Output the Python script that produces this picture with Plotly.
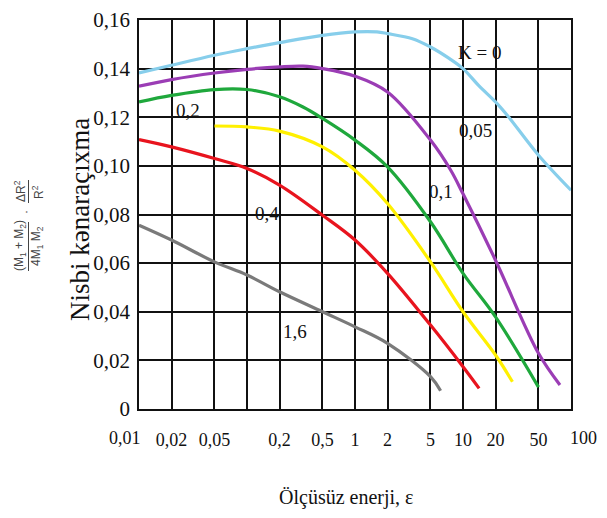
import math
import plotly.graph_objects as go

# ---------------- data ----------------
eps_k0 = [0.01, 0.02, 0.05, 0.1, 0.2, 0.5, 1, 1.6, 2, 3.4, 5, 7.5, 10, 14, 20, 26, 50, 100]
val_k0 = [0.1382, 0.1414, 0.1455, 0.1482, 0.1507, 0.1537, 0.1551, 0.1551, 0.1544, 0.1523,
          0.1489, 0.1441, 0.1400, 0.1330, 0.1263, 0.1205, 0.1044, 0.0900]

eps_k005 = [0.01, 0.02, 0.05, 0.1, 0.2, 0.33, 0.5, 1, 2, 5, 7.7, 10, 20, 50, 79]
val_k005 = [0.1328, 0.1355, 0.1382, 0.1397, 0.1407, 0.1410, 0.1400, 0.1369, 0.1304,
            0.1106, 0.0982, 0.0885, 0.0612, 0.0229, 0.0099]

eps_k01 = [0.01, 0.02, 0.05, 0.1, 0.2, 0.33, 0.5, 1, 2, 5, 10, 20, 50]
val_k01 = [0.1263, 0.1290, 0.1314, 0.1314, 0.1284, 0.1242, 0.1195, 0.1106, 0.0996,
           0.0770, 0.0558, 0.0379, 0.0090]

eps_k02 = [0.05, 0.1, 0.2, 0.5, 1, 2, 5, 10, 20, 28.7]
val_k02 = [0.1164, 0.1160, 0.1143, 0.1078, 0.0982, 0.0845, 0.0605, 0.0400, 0.0222, 0.0112]

eps_k04 = [0.01, 0.02, 0.05, 0.1, 0.2, 0.5, 1, 2, 5, 10, 14.1]
val_k04 = [0.1108, 0.1078, 0.1030, 0.0989, 0.0921, 0.0797, 0.0695, 0.0558, 0.0345,
           0.0174, 0.0085]

eps_k16 = [0.01, 0.02, 0.05, 0.1, 0.2, 0.5, 1, 2, 5, 6.2]
val_k16 = [0.0756, 0.0695, 0.0605, 0.0551, 0.0482, 0.0400, 0.0338, 0.0270, 0.0133, 0.0075]

series_names = ["K = 0", "0,05", "0,1", "0,2", "0,4", "1,6"]
series_eps = [eps_k0, eps_k005, eps_k01, eps_k02, eps_k04, eps_k16]
series_val = [val_k0, val_k005, val_k01, val_k02, val_k04, val_k16]
series_colors = ["#87CEEB", "#9B3DB5", "#1FA83C", "#FFF000", "#E8141E", "#7A7A7A"]

# curve label anchors (epsilon, value)
label_text = ["K = 0", "0,05", "0,2", "0,1", "0,4", "1,6"]
label_eps = [14.3, 13.0, 0.0284, 6.2, 0.154, 0.278]
label_val = [0.1468, 0.1147, 0.1229, 0.0893, 0.0804, 0.0318]

x_tickvals = [0.01, 0.02, 0.05, 0.1, 0.2, 0.5, 1, 2, 5, 10, 20, 50, 100]
x_ticktext = ["", "0,02", "0,05", "", "0,2", "0,5", "1", "2", "5", "10", "20", "50", ""]
x_edge_labels = ["0,01", "100"]
y_tickvals = [0, 0.02, 0.04, 0.06, 0.08, 0.10, 0.12, 0.14, 0.16]
y_ticktext = ["0", "0,02", "0,04", "0,06", "0,08", "0,10", "0,12", "0,14", "0,16"]

# ---------------- figure ----------------
W, H = 607, 518
ML, MR, MT, MB = 139, 36, 20, 109
PW, PH = W - ML - MR, H - MT - MB

def px(xp):
    return (xp - ML) / PW

def py(yp):
    return (H - MB - yp) / PH

SERIF = "Liberation Serif, Times New Roman, serif"
SANS = "Liberation Sans, Arial, sans-serif"

fig = go.Figure()
for name, ex, vy, col in zip(series_names, series_eps, series_val, series_colors):
    fig.add_trace(go.Scatter(x=ex, y=vy, mode="lines", name=name,
                             line=dict(color=col, width=3.2, shape="spline", smoothing=1.0),
                             showlegend=False, hoverinfo="skip"))

for t, ex, vy in zip(label_text, label_eps, label_val):
    fig.add_annotation(x=math.log10(ex), y=vy, xref="x", yref="y", text=t, showarrow=False,
                       xanchor="center", yanchor="middle",
                       font=dict(family=SERIF, size=19, color="#111"))

fig.update_xaxes(type="log", range=[-2, 2], tickvals=x_tickvals, ticktext=x_ticktext,
                 showgrid=True, gridcolor="#111", gridwidth=1.5,
                 showline=True, linecolor="#111", linewidth=1.5, mirror=True,
                 ticks="", ticklabelstandoff=14, tickangle=0, automargin=False,
                 tickfont=dict(family=SERIF, size=18, color="#111"),
                 zeroline=False)
fig.update_yaxes(range=[0, 0.16], tickvals=y_tickvals, ticktext=y_ticktext,
                 showgrid=True, gridcolor="#111", gridwidth=1.5,
                 showline=True, linecolor="#111", linewidth=1.5, mirror=True,
                 ticks="", ticklabelstandoff=3, automargin=False,
                 tickfont=dict(family=SERIF, size=21, color="#111"),
                 zeroline=False)

def note(xp, yp, text, size, family, color="#111", angle=0):
    fig.add_annotation(x=px(xp), y=py(yp), xref="paper", yref="paper", text=text,
                       showarrow=False, textangle=angle, xanchor="center", yanchor="middle",
                       font=dict(family=family, size=size, color=color))

# edge tick labels of the x axis (drawn just outside the frame as in the reference)
note(125, 438, x_edge_labels[0], 18, SERIF)
note(583, 438, x_edge_labels[1], 18, SERIF)

# axis titles
note(346, 497, "Ölçüsüz enerji, ε", 20, SERIF)
note(80, 220, "Nisbi kənaraçıxma", 27, SERIF, angle=-90)

# formula (rotated fractions)
FC = "#444"
note(20, 246, "(M<sub>1</sub> + M<sub>2</sub>)", 12, SANS, FC, -90)
note(37, 246, "4M<sub>1</sub> M<sub>2</sub>", 12, SANS, FC, -90)
note(26, 212, "·", 12, SANS, FC, -90)
note(20, 191, "ΔR<sup>2</sup>", 12, SANS, FC, -90)
note(38, 192, "R<sup>2</sup>", 12, SANS, FC, -90)
fig.add_shape(type="line", xref="paper", yref="paper",
              x0=px(28.5), x1=px(28.5), y0=py(222), y1=py(271),
              line=dict(color=FC, width=1))
fig.add_shape(type="line", xref="paper", yref="paper",
              x0=px(28.5), x1=px(28.5), y0=py(180), y1=py(203),
              line=dict(color=FC, width=1))

fig.update_layout(width=W, height=H, margin=dict(l=ML, r=MR, t=MT, b=MB, autoexpand=False),
                  paper_bgcolor="white", plot_bgcolor="white",
                  font=dict(family=SERIF, color="#111"))

fig.write_html("out.html", config={"displayModeBar": False},
               post_script="document.body.style.margin='0px';")
